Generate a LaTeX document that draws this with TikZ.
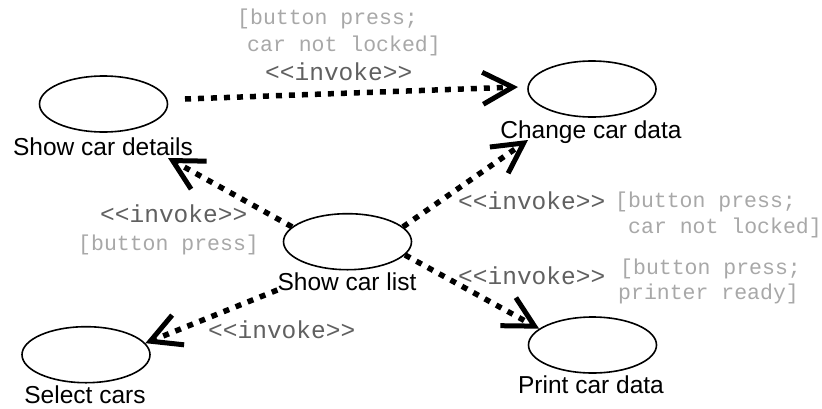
\documentclass[tikz,border=0pt]{standalone}
\usepackage{fontspec}
\setsansfont{Liberation Sans}
\setmonofont{Liberation Mono}
\usetikzlibrary{shapes.geometric,arrows.meta}
\definecolor{invgray}{HTML}{606060}
\definecolor{grdgray}{HTML}{A8A8A8}
\newcommand\mylabfont{\sffamily\fontsize{24.5}{28}\selectfont}
\newcommand\myinvfont{\ttfamily\fontsize{24.5}{28}\selectfont}
\newcommand\mygrdfont{\ttfamily\fontsize{21.5}{26}\selectfont}
\tikzset{
  usecase/.style={ellipse, draw, line width=1.6pt, minimum width=128pt, minimum height=56pt, inner sep=0pt},
  lab/.style={font=\mylabfont, anchor=base, inner sep=0pt},
  inv/.style={font=\myinvfont, text=invgray, anchor=base west, inner sep=0pt},
  grd/.style={font=\mygrdfont, text=grdgray, anchor=base west, inner sep=0pt},
  conn/.style={line width=5.5pt, dash pattern=on 6pt off 7pt,
    -{Straight Barb[length=30pt,width=32pt,line width=5pt]}}
}
\begin{document}
\begin{tikzpicture}[x=1pt,y=-1pt]
\fill[white] (0,0) rectangle (822,408);
\useasboundingbox (0,0) rectangle (822,408);
% use cases
\node[usecase] (details) at (103.5,104) {};
\node[usecase] (change) at (592,89) {};
\node[usecase] (list) at (347.5,241.7) {};
\node[usecase] (select) at (86,354.7) {};
\node[usecase] (print) at (592.5,345) {};
% labels
\node[lab] (detailsL) at (103,155) {Show car details};
\node[lab] (changeL) at (591,138) {Change car data};
\node[lab] (listL) at (347,290) {Show car list};
\node[lab] (selectL) at (85,403) {Select cars};
\node[lab] (printL) at (591,393) {Print car data};
% guards and stereotypes
\node[grd] (g1a) at (237,24) {[button press;};
\node[grd] (g1b) at (247,51) {car not locked]};
\node[inv] (i1) at (265,80) {<<invoke>>};
\node[inv] (i2) at (100,222) {<<invoke>>};
\node[grd] (g2) at (78,250) {[button press]};
\node[inv] (i3) at (208,338) {<<invoke>>};
\node[inv] (i4) at (458,209) {<<invoke>>};
\node[grd] (g4a) at (615,207) {[button press;};
\node[grd] (g4b) at (628,233) {car not locked]};
\node[inv] (i5) at (458,284) {<<invoke>>};
\node[grd] (g5a) at (620,274) {[button press;};
\node[grd] (g5b) at (618,299) {printer ready]};
% arrow tip points
\coordinate (tipChange) at (518,87);
\coordinate (tipDetails) at (168,158);
\coordinate (tipChange2) at (528,140);
\coordinate (startDetails) at (185,99);
% connectors
\draw[conn] (startDetails) -- (tipChange);
\draw[conn] (list.165) -- (tipDetails);
\draw[conn] (list.15) -- (tipChange2);
\draw[conn] (list.-13) -- (print.163);
\draw[conn] (listL.base west) -- (select.11);
\end{tikzpicture}
\end{document}
